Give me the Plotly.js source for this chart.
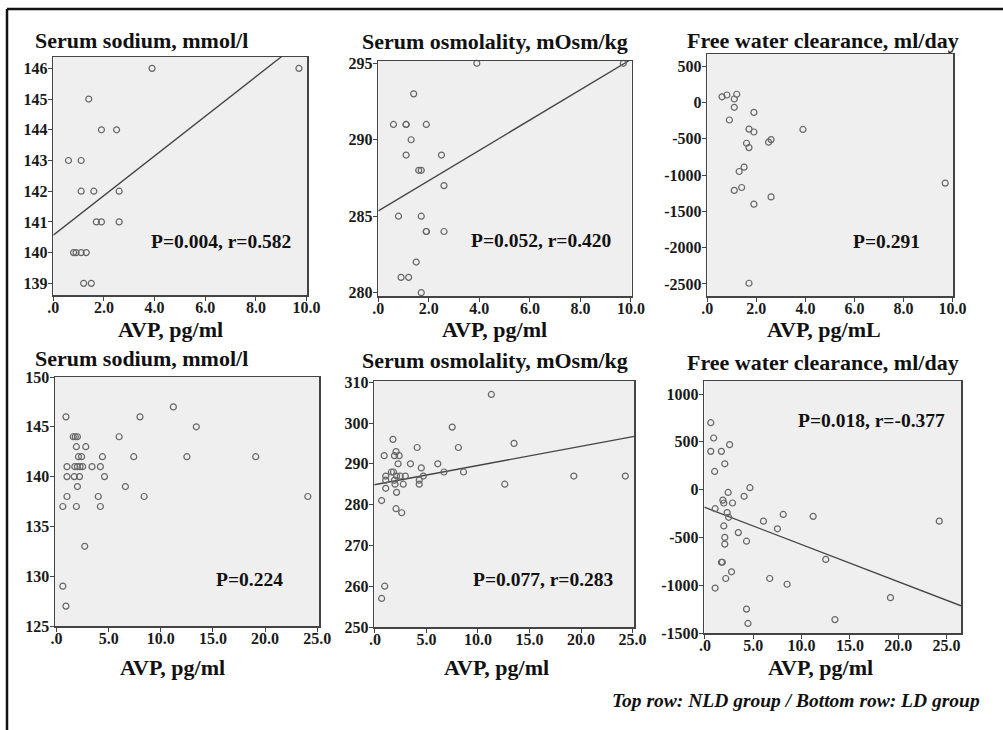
<!DOCTYPE html>
<html>
<head>
<meta charset="utf-8">
<script src="https://cdn.plot.ly/plotly-3.0.1.min.js"></script>
<style>
html,body{margin:0;padding:0;background:#fff;}
#chart{width:1003px;height:730px;}
</style>
</head>
<body>
<div id="chart"></div>
<script>
// ---------- DATA ----------
// Top row: NLD group
const nldSodiumAVP = [3.9, 9.7, 1.4, 1.9, 2.5, 0.6, 1.1, 1.1, 1.6, 2.6, 1.7, 1.9, 2.6, 0.8, 0.9, 1.1, 1.3, 1.2, 1.5];
const nldSodium    = [146, 146, 145, 144, 144, 143, 143, 142, 142, 142, 141, 141, 141, 140, 140, 140, 140, 139, 139];

const nldOsmAVP = [3.9, 9.7, 1.4, 0.6, 1.1, 1.1, 1.9, 1.3, 1.1, 2.5, 1.6, 1.7, 2.6, 0.8, 1.7, 1.9, 1.9, 2.6, 1.5, 0.9, 1.2, 1.7];
const nldOsm    = [295, 295, 293, 291, 291, 291, 291, 290, 289, 289, 288, 288, 287, 285, 285, 284, 284, 284, 282, 281, 281, 280];

const nldFwcAVP = [0.6, 0.8, 1.2, 1.1, 1.1, 0.9, 1.9, 1.7, 1.9, 3.9, 2.5, 2.6, 1.6, 1.7, 1.5, 1.3, 1.1, 1.4, 2.6, 1.9, 1.7, 9.7];
const nldFwc    = [80, 105, 115, 50, -65, -240, -135, -365, -405, -370, -545, -510, -560, -620, -890, -950, -1210, -1170, -1300, -1400, -2490, -1110];

// Bottom row: LD group
const ldSodiumAVP = [0.9, 11.2, 8.0, 13.4, 1.6, 1.8, 2.0, 6.0, 1.9, 2.8, 2.1, 2.4, 4.4, 7.4, 12.5, 19.1,
                     1.0, 1.75, 2.0, 2.25, 2.5, 3.4, 4.2, 1.0, 1.7, 2.2, 4.6, 2.0, 6.6, 1.0, 4.0, 8.4, 24.1,
                     0.6, 1.9, 4.2, 2.7, 0.6, 0.9];
const ldSodium    = [146, 147, 146, 145, 144, 144, 144, 144, 143, 143, 142, 142, 142, 142, 142, 142,
                     141, 141, 141, 141, 141, 141, 141, 140, 140, 140, 140, 139, 139, 138, 138, 138, 138,
                     137, 137, 137, 133, 129, 127];

const ldOsmAVP = [11.3, 7.5, 13.5, 1.75, 4.1, 8.1, 0.9, 1.9, 2.35, 2.05, 2.25, 3.45, 6.1, 4.5, 1.6, 1.8, 6.7, 8.6,
                  1.05, 2.1, 2.45, 2.95, 4.7, 19.3, 24.3, 1.05, 1.9, 4.3, 1.95, 2.75, 4.3, 12.6, 1.05, 2.1,
                  0.65, 2.05, 2.6, 0.95, 0.65];
const ldOsm    = [307, 299, 295, 296, 294, 294, 292, 292, 292, 293, 290, 290, 290, 289, 288, 288, 288, 288,
                  287, 287, 287, 287, 287, 287, 287, 286, 286, 286, 285, 285, 285, 285, 284, 283,
                  281, 279, 278, 260, 257];

const ldFwcAVP = [0.6, 0.9, 0.6, 1.7, 2.55, 2.05, 1.0, 4.65, 2.4, 4.05, 1.85, 1.95, 2.85, 1.05, 2.3, 2.45, 8.1,
                  11.2, 6.05, 24.25, 7.5, 1.95, 3.45, 2.05, 4.3, 2.05, 12.5, 1.7, 1.8, 2.75, 2.15, 6.7, 8.5,
                  1.05, 19.2, 4.3, 4.45, 13.45];
const ldFwc    = [700, 540, 400, 400, 470, 270, 190, 20, -30, -70, -110, -140, -140, -200, -240, -290, -260,
                  -280, -330, -330, -410, -380, -450, -500, -540, -570, -730, -760, -760, -860, -930, -930, -990,
                  -1030, -1130, -1250, -1400, -1360];

// Fitted regression lines (intercept, slope) as drawn in the reference
const fitNldSodium = [140.57, 0.645];
const fitNldOsm    = [285.35, 0.99];
const fitLdOsm     = [284.9, 0.47];
const fitLdFwc     = [-187, -38.8];

// Labels
const panelTitles = ["Serum sodium, mmol/l", "Serum osmolality, mOsm/kg", "Free water clearance, ml/day",
                     "Serum sodium, mmol/l", "Serum osmolality, mOsm/kg", "Free water clearance, ml/day"];
const xTitles = ["AVP, pg/ml", "AVP, pg/ml", "AVP, pg/mL", "AVP, pg/ml", "AVP, pg/ml", "AVP, pg/ml"];
const statTexts = ["P=0.004, r=0.582", "P=0.052, r=0.420", "P=0.291", "P=0.224", "P=0.077, r=0.283", "P=0.018, r=-0.377"];
const footerText = "Top row: NLD group / Bottom row: LD group";

const xTicksTop = [0, 2, 4, 6, 8, 10];
const xTickTextTop = [".0", "2.0", "4.0", "6.0", "8.0", "10.0"];
const xTicksBot = [0, 5, 10, 15, 20, 25];
const xTickTextBot = [".0", "5.0", "10.0", "15.0", "20.0", "25.0"];
const yTicks1 = [139, 140, 141, 142, 143, 144, 145, 146];
const yTicks2 = [280, 285, 290, 295];
const yTicks3 = [-2500, -2000, -1500, -1000, -500, 0, 500];
const yTicks4 = [125, 130, 135, 140, 145, 150];
const yTicks5 = [250, 260, 270, 280, 290, 300, 310];
const yTicks6 = [-1500, -1000, -500, 0, 500, 1000];

// ---------- LAYOUT GEOMETRY (pixels) ----------
const W = 1003, H = 730;
const px = v => v / W;
const py = v => 1 - v / H;

const boxes = [
  {x0: 53.3, x1: 307.3, y0: 57, y1: 295, xr: [0, 10.03], yr: [138.62, 146.37]},
  {x0: 378.3, x1: 631.7, y0: 61, y1: 296, xr: [0, 10.03], yr: [279.78, 295.15]},
  {x0: 707.3, x1: 953.3, y0: 54, y1: 296, xr: [0, 10.03], yr: [-2666, 670]},
  {x0: 55, x1: 319.3, y0: 377, y1: 626, xr: [-0.15, 25.2], yr: [125, 150]},
  {x0: 374.3, x1: 634.3, y0: 381, y1: 627, xr: [-0.06, 25.17], yr: [250, 310.3]},
  {x0: 704.3, x1: 961, y0: 381, y1: 633, xr: [-0.07, 26.5], yr: [-1500, 1136]}
];
const yTickSets = [yTicks1, yTicks2, yTicks3, yTicks4, yTicks5, yTicks6];

const serif = "'Liberation Serif', 'Times New Roman', serif";
const tickFont = {family: serif, size: 16, color: '#1a1a1a', weight: 'bold'};

const layout = {
  width: W, height: H,
  margin: {l: 0, r: 0, t: 0, b: 0},
  paper_bgcolor: '#ffffff',
  font: {family: serif, size: 16, color: '#1a1a1a', weight: 'bold'},
  showlegend: false,
  annotations: [],
  shapes: [
    {type: 'line', xref: 'paper', yref: 'paper', x0: px(7), x1: 1, y0: py(9), y1: py(9), line: {color: '#111', width: 2.5}},
    {type: 'line', xref: 'paper', yref: 'paper', x0: px(7), x1: px(7), y0: py(9), y1: 0, line: {color: '#111', width: 2.5}}
  ]
};

boxes.forEach((b, i) => {
  const n = i + 1;
  const xk = 'xaxis' + (n === 1 ? '' : n);
  const yk = 'yaxis' + (n === 1 ? '' : n);
  const top = i < 3;
  layout[xk] = {
    domain: [px(b.x0), px(b.x1)], range: b.xr, anchor: 'y' + (n === 1 ? '' : n),
    showgrid: false, zeroline: false, showline: true, mirror: true, linecolor: '#444', linewidth: 1.5,
    ticks: 'outside', ticklen: 4, tickcolor: '#444', tickwidth: 1, ticklabelstandoff: -7,
    tickvals: top ? xTicksTop : xTicksBot, ticktext: top ? xTickTextTop : xTickTextBot,
    tickfont: tickFont, fixedrange: true
  };
  layout[yk] = {
    domain: [py(b.y1), py(b.y0)], range: b.yr, anchor: 'x' + (n === 1 ? '' : n),
    showgrid: false, zeroline: false, showline: true, mirror: true, linecolor: '#444', linewidth: 1.5,
    ticks: 'outside', ticklen: 4, tickcolor: '#444', tickwidth: 1, ticklabelstandoff: -3,
    tickvals: yTickSets[i], ticktext: yTickSets[i].map(String),
    tickfont: tickFont, fixedrange: true
  };
  layout.shapes.push({type: 'rect', xref: 'paper', yref: 'paper', layer: 'below',
    x0: px(b.x0), x1: px(b.x1), y0: py(b.y1), y1: py(b.y0), fillcolor: '#efefef', line: {width: 0}});
});

// Titles, x titles, stat texts, footer
const titlePos = [
  {x: 33, y: 40, anchor: 'left'}, {x: 495, y: 41, anchor: 'center'}, {x: 823, y: 40, anchor: 'center'},
  {x: 33, y: 358, anchor: 'left'}, {x: 495, y: 360, anchor: 'center'}, {x: 823, y: 362, anchor: 'center'}
];
const xTitlePos = [
  {x: 170, y: 329}, {x: 494, y: 329}, {x: 824, y: 329},
  {x: 172, y: 667}, {x: 496, y: 667}, {x: 820, y: 667}
];
const statPos = [
  {x: 220.5, y: 241}, {x: 541, y: 240}, {x: 886, y: 241},
  {x: 249, y: 579}, {x: 543, y: 579}, {x: 871, y: 420}
];
const boldFont = (s) => ({family: serif, size: s, color: '#111', weight: 'bold'});

panelTitles.forEach((t, i) => {
  layout.annotations.push({text: t, xref: 'paper', yref: 'paper', x: px(titlePos[i].x), y: py(titlePos[i].y),
    xanchor: titlePos[i].anchor, yanchor: 'middle', showarrow: false, font: boldFont(22)});
  layout.annotations.push({text: xTitles[i], xref: 'paper', yref: 'paper', x: px(xTitlePos[i].x), y: py(xTitlePos[i].y),
    xanchor: 'center', yanchor: 'middle', showarrow: false, borderpad: 0, font: boldFont(22)});
  layout.annotations.push({text: statTexts[i], xref: 'paper', yref: 'paper', x: px(statPos[i].x), y: py(statPos[i].y),
    xanchor: 'center', yanchor: 'middle', showarrow: false, font: boldFont(19.5)});
});
layout.annotations.push({text: footerText, xref: 'paper', yref: 'paper', x: px(982), y: py(700),
  xanchor: 'right', yanchor: 'middle', showarrow: false,
  font: {family: serif, size: 19.5, color: '#111', weight: 'bold', style: 'italic'}});

// ---------- TRACES ----------
const marker = {symbol: 'circle-open', size: 6, color: '#666', line: {width: 1.2, color: '#666'}};
const scatterSets = [
  [nldSodiumAVP, nldSodium], [nldOsmAVP, nldOsm], [nldFwcAVP, nldFwc],
  [ldSodiumAVP, ldSodium], [ldOsmAVP, ldOsm], [ldFwcAVP, ldFwc]
];
const fits = [fitNldSodium, fitNldOsm, null, null, fitLdOsm, fitLdFwc];

const traces = [];
scatterSets.forEach((s, i) => {
  const n = i + 1;
  const xa = 'x' + (n === 1 ? '' : n), ya = 'y' + (n === 1 ? '' : n);
  const f = fits[i];
  if (f) {
    const xs = [boxes[i].xr[0], boxes[i].xr[1]];
    traces.push({type: 'scatter', mode: 'lines', x: xs, y: xs.map(x => f[0] + f[1] * x),
      xaxis: xa, yaxis: ya, line: {color: '#444', width: 1.3}, hoverinfo: 'skip'});
  }
  traces.push({type: 'scatter', mode: 'markers', x: s[0], y: s[1], xaxis: xa, yaxis: ya, marker: marker, cliponaxis: false});
});

Plotly.newPlot('chart', traces, layout, {staticPlot: true, displayModeBar: false});
</script>
</body>
</html>
